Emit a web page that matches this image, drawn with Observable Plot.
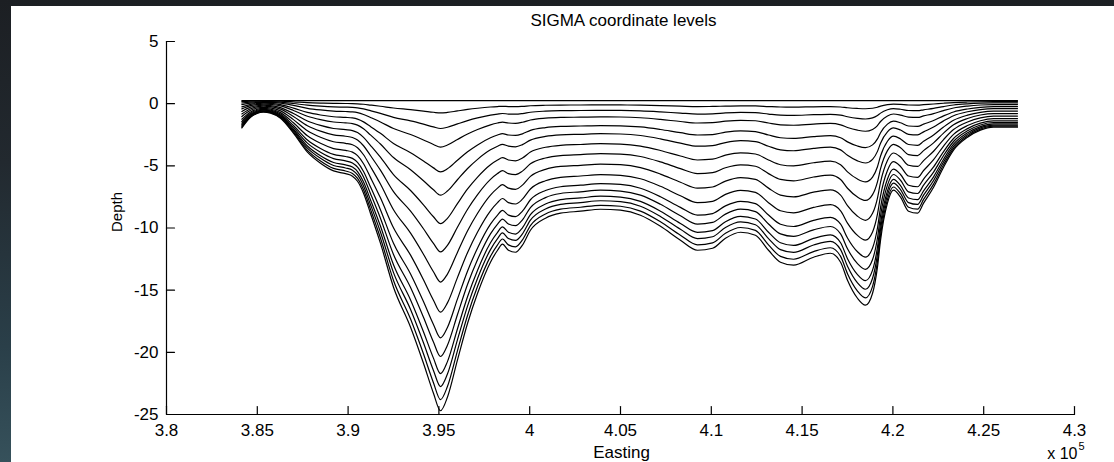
<!DOCTYPE html>
<html>
<head>
<meta charset="utf-8">
<script src="https://cdn.jsdelivr.net/npm/d3@7"></script>
<script src="https://cdn.jsdelivr.net/npm/@observablehq/plot@0.6"></script>
<style>
  html, body { margin: 0; padding: 0; width: 1114px; height: 462px; overflow: hidden; }
  body { background: linear-gradient(180deg, #1c1f23 0%, #22292f 35%, #2a3f49 75%, #36515b 100%); position: relative; }
  #panel { position: absolute; left: 11px; top: 6px; width: 1103px; height: 456px; background: #fff; overflow: hidden; }
  #panel svg { display: block; }
</style>
</head>
<body>
<div id="panel"></div>
<script>
// Bathymetry profile (bed elevation, m) along the transect
const eastings = [384150, 384630, 384960, 385340, 385730, 386280, 386990, 387760, 388480, 389200,
  389860, 390240, 390520, 390850, 391230, 391780, 392500, 393440, 394150, 394700,
  395090, 395470, 396020, 396580, 397130, 397840, 398230, 398500, 398830, 399220,
  399600, 400040, 400870, 401700, 402800, 403900, 405000, 406100, 407200, 408300,
  409240, 410070, 410780, 411610, 412430, 413150, 413810, 414530, 415630, 416560,
  417120, 417500, 418050, 418490, 418880, 419150, 419320, 419700, 420030, 420420,
  420860, 421360, 421690, 422240, 422790, 423340, 424110, 424820, 425540, 426860];
const bedDepth = [-1.95, -1.09, -0.80, -0.68, -0.76, -1.17, -2.37, -3.90, -4.79, -5.41,
  -5.63, -5.83, -6.24, -7.20, -8.81, -11.22, -14.76, -17.98, -20.88, -23.29,
  -24.70, -23.61, -20.63, -17.66, -15.25, -12.75, -11.79, -11.30, -11.79, -11.95,
  -11.38, -10.18, -9.21, -8.81, -8.65, -8.49, -8.57, -8.97, -9.86, -10.98,
  -11.79, -11.63, -10.82, -10.34, -10.58, -11.79, -12.75, -12.99, -12.35, -12.03,
  -12.75, -14.20, -15.65, -16.21, -15.25, -13.15, -10.98, -8.00, -6.96, -7.52,
  -8.65, -8.81, -8.00, -6.72, -5.11, -3.74, -2.70, -2.13, -1.89, -1.89];
// Sigma fractions of the water column (0 = surface, 1 = bed)
const sigmaLevels = [0, 0.04, 0.09, 0.15, 0.23, 0.305, 0.397, 0.488, 0.585, 0.682, 0.765, 0.825, 0.88, 0.922, 0.964, 1];
const surfaceLevel = 0.25;

const xTicks = [380000, 385000, 390000, 395000, 400000, 405000, 410000, 415000, 420000, 425000, 430000];
const yTicks = [-25, -20, -15, -10, -5, 0, 5];
const titleText = "SIGMA coordinate levels";
const xLabel = "Easting";
const yLabel = "Depth";
const xExponentBase = "x 10";
const xExponent = "5";

const rows = sigmaLevels.flatMap((s, k) =>
  eastings.map((e, i) => ({ easting: e, z: surfaceLevel + s * (bedDepth[i] - surfaceLevel), level: k }))
);

const tickShape = { draw(context, l) { context.moveTo(0, 0); context.lineTo(0, -l); } };

const chart = Plot.plot({
  width: 1103,
  height: 456,
  marginLeft: 155,
  marginRight: 40,
  marginTop: 35,
  marginBottom: 48,
  x: { domain: [380000, 430000] },
  y: { domain: [-25, 5] },
  style: { fontFamily: "'Liberation Sans', Arial, sans-serif", fontSize: "17px", background: "#fff", color: "#000", overflow: "visible" },
  marks: [
    Plot.line(rows, { x: "easting", y: "z", z: "level", stroke: "#000", strokeWidth: 1.2, curve: "monotone-x" }),
    Plot.ruleX([xTicks[0]], { stroke: "#000", strokeWidth: 1.2 }),
    Plot.ruleY([yTicks[0]], { stroke: "#000", strokeWidth: 1.2 }),
    Plot.vector(xTicks, { x: d => d, frameAnchor: "bottom", length: 8, anchor: "start", shape: tickShape, stroke: "#000", strokeWidth: 1.2 }),
    Plot.vector(yTicks, { y: d => d, frameAnchor: "left", length: 8, anchor: "start", rotate: 90, shape: tickShape, stroke: "#000", strokeWidth: 1.2 }),
    Plot.axisX({ ticks: xTicks, tickSize: 0, tickPadding: 9, label: null, fontSize: 17, tickFormat: d => String(+(d / 1e5).toFixed(2)) }),
    Plot.axisY({ ticks: yTicks, tickSize: 0, tickPadding: 8, label: null, fontSize: 17, tickFormat: d => String(d) }),
    Plot.text([titleText], { frameAnchor: "top", lineAnchor: "top", dy: -28, dx: 3, fontSize: 17, fill: "#000" }),
    Plot.text([xLabel], { frameAnchor: "bottom", lineAnchor: "top", dy: 31, dx: 1, fontSize: 17, fill: "#000" }),
    Plot.text([yLabel], { frameAnchor: "left", lineAnchor: "middle", rotate: -90, dx: -49, dy: 4, fontSize: 15, fill: "#000" }),
    Plot.text([xExponentBase], { frameAnchor: "bottom-right", textAnchor: "end", lineAnchor: "top", dx: 3, dy: 33, fontSize: 16, fill: "#000" }),
    Plot.text([xExponent], { frameAnchor: "bottom-right", textAnchor: "start", lineAnchor: "top", dx: 4, dy: 28, fontSize: 11, fill: "#000" })
  ]
});
document.getElementById("panel").appendChild(chart);
</script>
</body>
</html>
